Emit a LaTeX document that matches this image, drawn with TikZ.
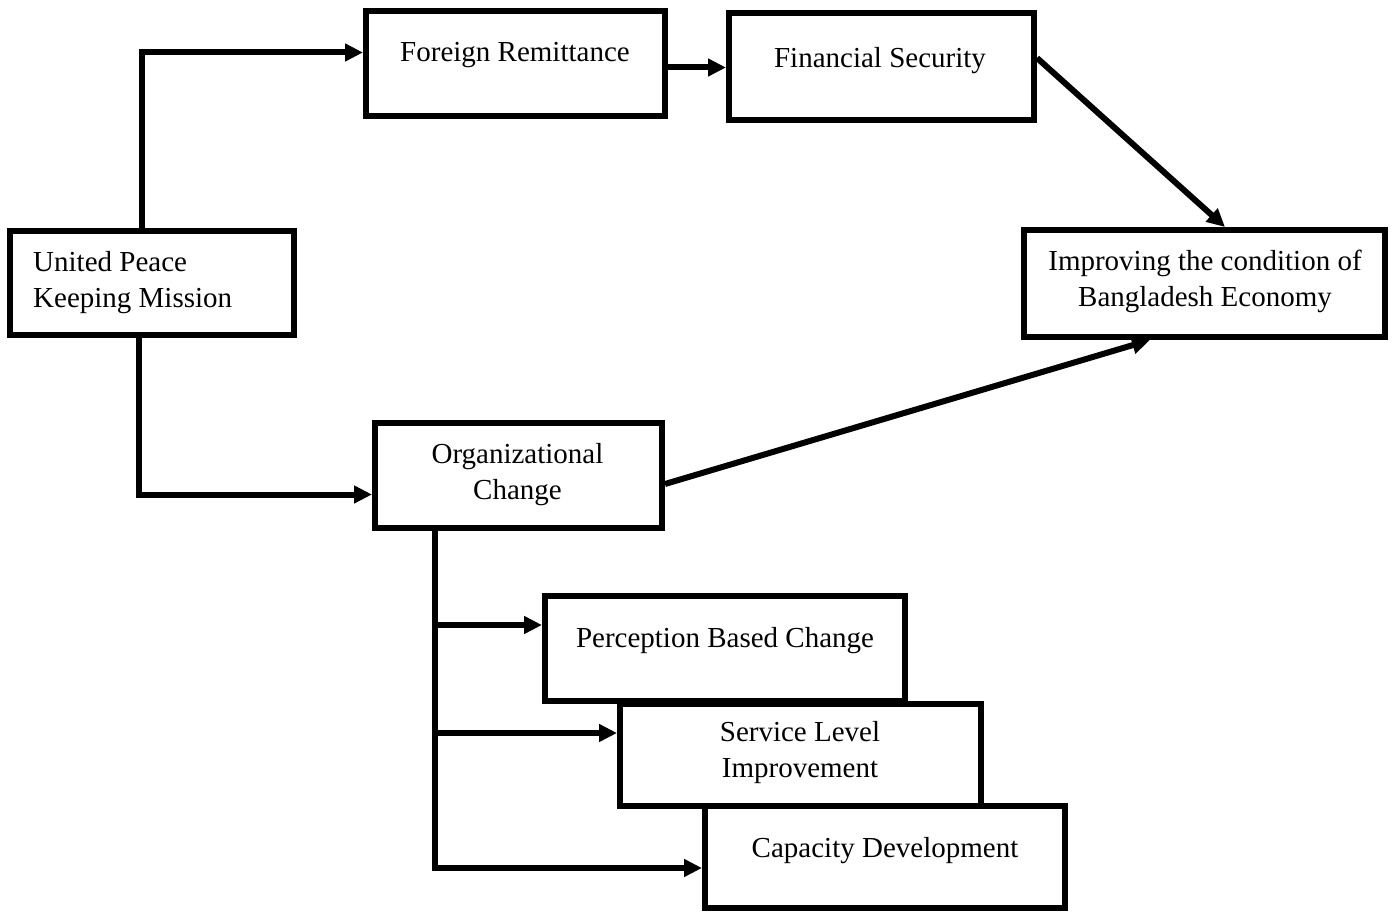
\documentclass[tikz,border=0pt]{standalone}
\usepackage{fontspec}
\setmainfont{Liberation Serif}
\usetikzlibrary{arrows.meta}

% two-line labels whose baseline is the first line
\newcommand\linesc[2]{\begin{tabular}[t]{@{}c@{}}#1\\#2\end{tabular}}
\newcommand\linesl[2]{\begin{tabular}[t]{@{}l@{}}#1\\#2\end{tabular}}

\tikzset{
  box/.style={draw=black, fill=white, line width=6pt, outer sep=3pt,
              inner sep=0pt, rectangle},
  lbl/.style={inner sep=0pt, anchor=base,
              font=\fontsize{29}{36.5}\selectfont},
  arr/.style={line width=6pt, -{Triangle[length=18pt,width=17pt]}},
  link/.style={line width=6pt},
}

\begin{document}
\begin{tikzpicture}[x=1pt, y=-1pt]
\useasboundingbox (0,0) rectangle (1394,912);

% boxes (sizes are measured along the border's centre line)
\node[box, minimum width=284pt, minimum height=104pt] (upkm) at (152,283) {};
\node[box, minimum width=299pt, minimum height=105pt] (fr)   at (515.5,63.5) {};
\node[box, minimum width=305pt, minimum height=107pt] (fs)   at (881.5,66.5) {};
\node[box, minimum width=361pt, minimum height=107pt] (imp)  at (1204.5,283.5) {};
\node[box, minimum width=287pt, minimum height=105pt] (oc)   at (518.5,475.5) {};
\node[box, minimum width=360pt, minimum height=105pt] (pbc)  at (725,648.5) {};
\node[box, minimum width=361pt, minimum height=102pt] (sli)  at (800.5,755) {};
\node[box, minimum width=360pt, minimum height=102pt] (cd)   at (885,857) {};

% labels
\node[lbl, anchor=base west] (upkm-t) at (33,271) {\linesl{United Peace}{Keeping Mission}};
\node[lbl] (fr-t)  at (515,62)   {Foreign Remittance};
\node[lbl] (fs-t)  at (880,68)   {Financial Security};
\node[lbl] (imp-t) at (1205,270) {\linesc{Improving the condition of}{Bangladesh Economy}};
\node[lbl] (oc-t)  at (517.5,463) {\linesc{Organizational}{Change}};
\node[lbl] (pbc-t) at (725,647)  {Perception Based Change};
\node[lbl] (sli-t) at (800,741)  {\linesc{Service Level}{Improvement}};
\node[lbl] (cd-t)  at (885,857)  {Capacity Development};

% connectors
\draw[arr] (upkm.north -| 141.5,0) |- (fr.west |- 0,52.5);
\draw[arr] (fr.east |- 0,67.5) -- (fs.west |- 0,67.5);
\draw[arr] (fs.east |- 0,58) -- (imp.north -| 1225,0);
\draw[arr] (upkm.south -| 138.5,0) |- (oc.west |- 0,494.5);
\draw[arr] (oc.east |- 0,484) -- (imp.south -| 1150,0);

% branching line below Organizational Change
\coordinate (j1) at (434.5,625);
\coordinate (j2) at (434.5,733);
\draw[arr] (oc.south -| j1) |- (cd.west |- 0,868);
\draw[arr] (j1) -- (pbc.west |- j1);
\draw[arr] (j2) -- (sli.west |- j2);
\end{tikzpicture}
\end{document}
